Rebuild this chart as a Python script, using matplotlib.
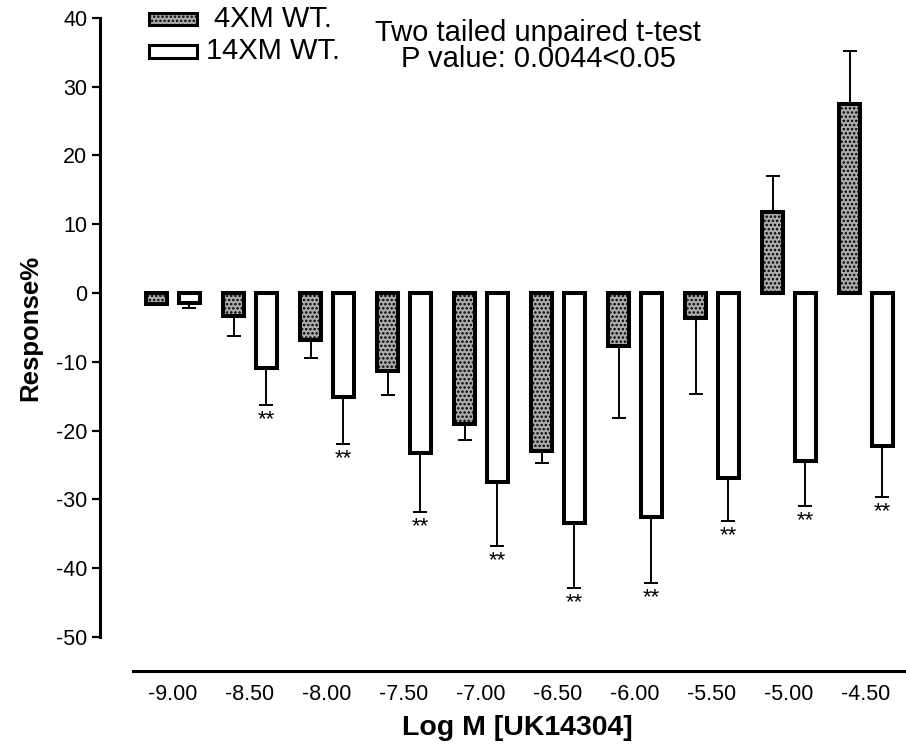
import matplotlib
matplotlib.use("Agg")
import matplotlib.pyplot as plt
from matplotlib.patches import Rectangle
import numpy as np

plt.rcParams['font.family'] = ['Liberation Sans', 'DejaVu Sans']
plt.rcParams['hatch.linewidth'] = 1.2
plt.rcParams['axes.unicode_minus'] = False

# Dose levels (log molar UK14304)
doses = ['-9.00', '-8.50', '-8.00', '-7.50', '-7.00',
         '-6.50', '-6.00', '-5.50', '-5.00', '-4.50']

# 4XM WT. responses (%) and one-sided error
wt4_mean = [-1.6, -3.3, -6.9, -11.4, -19.0, -22.9, -7.7, -3.6, 11.7, 27.4]
wt4_err = [0.0, 3.0, 2.6, 3.4, 2.3, 1.8, 10.5, 11.1, 5.3, 7.8]

# 14XM WT. responses (%) and one-sided error
wt14_mean = [-1.5, -10.9, -15.1, -23.2, -27.5, -33.5, -32.5, -26.9, -24.4, -22.2]
wt14_err = [0.7, 5.4, 6.9, 8.7, 9.3, 9.4, 9.6, 6.2, 6.6, 7.5]

# significance marks for 14XM WT.
significant = [False, True, True, True, True, True, True, True, True, True]

legend_labels = ['4XM WT.', '14XM WT.']
test_lines = ['Two tailed unpaired t-test', 'P value: 0.0044<0.05']

W, H = 906, 756
fig = plt.figure(figsize=(W / 100, H / 100), dpi=100)
ax = fig.add_axes([100 / W, (H - 692) / H, (W - 100) / W, 688 / H])

x = np.arange(len(doses))
bw = 0.27
off = 0.212
grey_face = '#adadad'
edge_lw = 2.9

def one_sided(means, errs):
    lower = [e if m < 0 else 0 for m, e in zip(means, errs)]
    upper = [e if m >= 0 else 0 for m, e in zip(means, errs)]
    return [lower, upper]

ax.bar(x - off, wt4_mean, width=bw, facecolor=grey_face, edgecolor='black',
       linewidth=edge_lw, hatch='....', zorder=2)
ax.bar(x + off, wt14_mean, width=bw, facecolor='white', edgecolor='black',
       linewidth=edge_lw, zorder=2)

ax.errorbar(x - off, wt4_mean, yerr=one_sided(wt4_mean, wt4_err), fmt='none',
            ecolor='black', elinewidth=1.4, capsize=4.8, capthick=1.4, zorder=1)
ax.errorbar(x + off, wt14_mean, yerr=one_sided(wt14_mean, wt14_err), fmt='none',
            ecolor='black', elinewidth=1.4, capsize=4.8, capthick=1.4, zorder=1)

for xi, m, e, s in zip(x + off, wt14_mean, wt14_err, significant):
    if s:
        ax.annotate('**', (xi, m - e), xytext=(0, -3), textcoords='offset points',
                    ha='center', va='top', fontsize=16)

ax.set_xlim(-73 / 77, (W - 173) / 77)
ax.set_ylim(-58, 42)

for side in ('top', 'right'):
    ax.spines[side].set_visible(False)
ax.spines['left'].set_bounds(-50, 40)
ax.spines['left'].set_linewidth(2.2)
ax.spines['bottom'].set_position(('data', -55))
ax.spines['bottom'].set_bounds(-40 / 77, (W - 173) / 77)
ax.spines['bottom'].set_linewidth(2.2)

ax.set_yticks(np.arange(-50, 41, 10))
ax.tick_params(axis='y', length=6, width=1.6, labelsize=15.5, pad=3)
ax.set_xticks(x)
ax.set_xticklabels(doses)
ax.tick_params(axis='x', length=0, labelsize=15.5, pad=9)

ax.set_ylabel('Response%', fontsize=18.5, fontweight='bold', va='center')
ax.yaxis.set_label_coords(-70 / 806, (692 - 328) / 688)
ax.set_xlabel('Log M [UK14304]', fontsize=20.5, fontweight='bold', va='center')
ax.xaxis.set_label_coords((517 - 100) / 806, (692 - 728) / 688)

# legend boxes and labels
fig.add_artist(Rectangle((149 / W, (H - 25) / H), 48 / W, 12 / H,
                         transform=fig.transFigure, facecolor=grey_face,
                         edgecolor='black', linewidth=2.2, hatch='....'))
fig.add_artist(Rectangle((149 / W, (H - 58) / H), 48 / W, 13 / H,
                         transform=fig.transFigure, facecolor='white',
                         edgecolor='black', linewidth=2.2))
fig.text(214 / W, (H - 19) / H, legend_labels[0], fontsize=21, va='center', ha='left')
fig.text(206 / W, (H - 51) / H, legend_labels[1], fontsize=21, va='center', ha='left')

# statistics note, two centred lines
fig.text(538 / W, (H - 46) / H, '\n'.join(test_lines), fontsize=21,
         va='center', ha='center', multialignment='center', linespacing=0.95)

fig.savefig('out.png', dpi=100)
